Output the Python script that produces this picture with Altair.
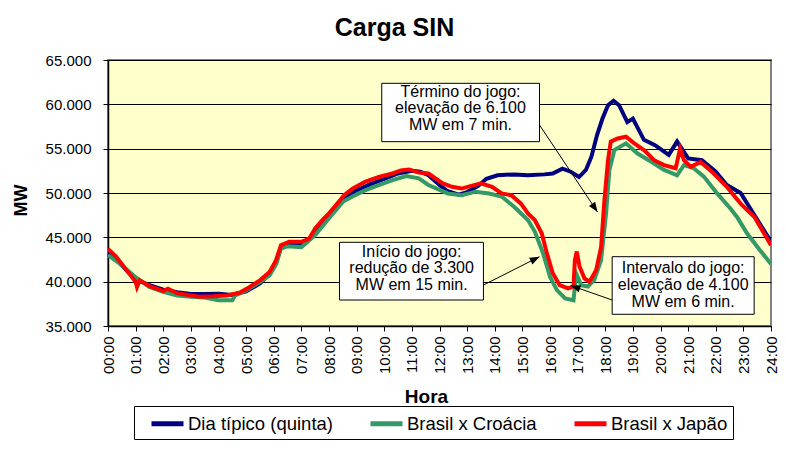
import math
import altair as alt
import pandas as pd

FONT = "Liberation Sans"

series_names = ["Dia típico (quinta)", "Brasil x Croácia", "Brasil x Japão"]
series_colors = ["#000080", "#339966", "#FF0000"]

# Dia típico (quinta)
tipico_h = [0.0, 0.3, 0.7, 1.0, 1.5, 2.0, 2.5, 3.0, 3.5, 4.0, 4.5, 5.0, 5.5, 5.85, 6.1, 6.27,
            6.6, 7.0, 7.3, 7.5, 8.0, 8.5, 9.0, 9.5, 10.0, 10.5, 11.0, 11.3, 11.6, 12.0, 12.3,
            12.7, 13.0, 13.4, 13.7, 14.1, 14.7, 15.2, 15.8, 16.1, 16.45, 16.75, 17.05, 17.3,
            17.5, 17.7, 17.9, 18.1, 18.3, 18.5, 18.8, 19.0, 19.4, 19.8, 20.3, 20.6, 21.0, 21.5,
            22.0, 22.4, 22.9, 23.2, 23.5, 24.0]
tipico_mw = [43300, 42500, 41200, 40300, 39600, 39100, 38800, 38600, 38600, 38650, 38500, 38900,
             39800, 40900, 42300, 43900, 44300, 44300, 44800, 45800, 47500, 49400, 50300, 51000,
             51600, 52200, 52500, 52400, 52000, 50900, 50200, 49800, 50100, 50800, 51600, 52000,
             52100, 52000, 52100, 52200, 52750, 52400, 51800, 52600, 54100, 56500, 58400, 59900,
             60400, 59900, 58000, 58400, 56000, 55400, 54300, 55800, 53900, 53700, 52400, 50900,
             50000, 48500, 47000, 44500]

# Brasil x Croácia
croacia_h = [0.0, 0.5, 1.0, 1.5, 2.0, 2.5, 3.0, 3.5, 4.0, 4.5, 4.6, 5.0, 5.5, 5.85, 6.1, 6.25,
             6.5, 7.0, 7.5, 8.0, 8.5, 8.85, 9.3, 9.8, 10.3, 10.8, 11.25, 11.6, 12.3, 12.8, 13.3,
             13.8, 14.25, 14.7, 15.2, 15.45, 15.75, 16.0, 16.25, 16.55, 16.85, 16.95, 17.13,
             17.37, 17.6, 17.85, 18.03, 18.15, 18.33, 18.75, 19.17, 19.65, 20.13, 20.6, 20.85,
             21.2, 21.57, 22.05, 22.53, 22.77, 23.13, 23.6, 24.0]
croacia_mw = [43000, 41850, 40500, 39400, 38850, 38450, 38300, 38200, 37900, 37900, 38450, 39000,
              39950, 40700, 42050, 43700, 44000, 43900, 45250, 47150, 49000, 49600, 50300, 50900,
              51450, 51900, 51650, 50900, 49950, 49750, 50150, 49950, 49600, 48450, 46950, 45650,
              43200, 40550, 39050, 38100, 37900, 40900, 39600, 39450, 40200, 42450, 47700, 52600,
              54850, 55600, 54450, 53550, 52600, 52000, 53150, 52800, 51850, 49950, 48250, 47300,
              45450, 43550, 42000]

# Brasil x Japão
japao_h = [0.0, 0.3, 0.67, 1.0, 1.05, 1.15, 1.5, 2.0, 2.17, 2.5, 3.0, 3.3, 3.8, 4.3, 4.76, 5.1,
           5.5, 5.85, 6.08, 6.26, 6.56, 7.0, 7.28, 7.5, 7.76, 8.0, 8.3, 8.55, 8.85, 9.3, 9.8,
           10.3, 10.6, 10.9, 11.25, 11.6, 12.1, 12.45, 12.8, 13.15, 13.5, 13.9, 14.25, 14.6,
           14.95, 15.2, 15.45, 15.7, 15.87, 16.1, 16.35, 16.65, 16.85, 16.9, 16.97, 17.07, 17.25,
           17.43, 17.67, 17.85, 17.97, 18.1, 18.2, 18.45, 18.75, 19.05, 19.4, 19.77, 20.13,
           20.55, 20.71, 20.85, 21.1, 21.45, 21.93, 22.4, 22.9, 23.4, 24.0]
japao_mw = [43700, 42800, 41300, 40000, 39400, 40150, 39500, 38950, 39200, 38700, 38450, 38300,
            38350, 38450, 38750, 39350, 40150, 41100, 42400, 44100, 44500, 44500, 44850, 46000,
            46950, 47700, 48800, 49750, 50500, 51250, 51800, 52200, 52550, 52650, 52300, 52200,
            51100, 50700, 50500, 50800, 51100, 50700, 49950, 49750, 48800, 47700, 46950, 45450,
            43400, 40950, 39600, 39250, 39450, 42400, 43400, 41700, 40350, 40000, 41300, 43900,
            49200, 53700, 55800, 56150, 56350, 55600, 54850, 53700, 53150, 52800, 55000, 53700,
            52950, 53500, 52200, 50700, 48800, 47300, 44100]

hour_ticks = list(range(0, 25))
mw_ticks = [35000, 40000, 45000, 50000, 55000, 60000, 65000]

# Annotations (data units: hours, MW); text position = first line
note_texts = ["Término do jogo:\nelevação de 6.100\nMW em 7 min.",
              "Início do jogo:\nredução de 3.300\nMW em 15 min.",
              "Intervalo do jogo:\nelevação de 4.100\nMW em 6 min."]
note_text_h = [12.76, 10.99, 20.82]
note_text_mw = [61420, 43380, 41500]
box_h1 = [9.91, 8.38, 18.25]
box_h2 = [15.62, 13.59, 23.39]
box_mw1 = [62370, 44440, 42816]
box_mw2 = [55790, 37930, 36320]
arrow_h_from = [15.62, 13.59, 18.25]
arrow_mw_from = [57670, 39620, 37930]
arrow_h_to = [17.72, 15.62, 16.75]
arrow_mw_to = [47860, 42816, 39570]

W, H = 663, 266
Y_MIN, Y_MAX = 35000, 65000

frames = []
for name, hh, vv in zip(series_names, [tipico_h, croacia_h, japao_h], [tipico_mw, croacia_mw, japao_mw]):
    frames.append(pd.DataFrame({"hora": hh, "mw": vv, "serie": name}))

# arrowhead orientation computed in pixel space from the scales' geometry
angles = []
for h0, v0, h1, v1 in zip(arrow_h_from, arrow_mw_from, arrow_h_to, arrow_mw_to):
    dx = (h1 - h0) * W / 24.0
    dy = -(v1 - v0) * H / (Y_MAX - Y_MIN)
    angles.append(math.degrees(math.atan2(dx, -dy)) % 360)

boxes = pd.DataFrame({"hora": box_h1, "hora2": box_h2, "mw": box_mw1, "mw2": box_mw2})
texts = pd.DataFrame({"hora": note_text_h, "mw": note_text_mw, "txt": note_texts})
arrows = pd.DataFrame({"hora": arrow_h_from, "mw": arrow_mw_from,
                       "hora2": arrow_h_to, "mw2": arrow_mw_to})
heads = pd.DataFrame({"hora": arrow_h_to, "mw": arrow_mw_to, "ang": angles})


def xenc():
    return alt.X("hora:Q", title="Hora",
                 scale=alt.Scale(domain=[0, 24], nice=False, zero=False),
                 axis=alt.Axis(values=hour_ticks, grid=False, labelAngle=270,
                               labelExpr="(datum.value < 10 ? '0' : '') + datum.value + ':00'",
                               labelFlush=False, labelOverlap=False, labelFontSize=15,
                               labelPadding=5, tickSize=5, titleFontSize=19, titleFontWeight="bold",
                               titleX=318, titleY=76, titleBaseline="alphabetic",
                               domainColor="black", domainWidth=1.5))


def yenc():
    return alt.Y("mw:Q", title="MW",
                 scale=alt.Scale(domain=[Y_MIN, Y_MAX], nice=False, zero=False),
                 axis=alt.Axis(values=mw_ticks, grid=True, gridColor="black", gridWidth=1,
                               labelExpr="replace(format(datum.value, ','), ',', '.')",
                               labelFontSize=15, labelPadding=12, tickSize=5,
                               titleFontSize=18, titleFontWeight="bold",
                               titleX=-87, titleY=140, titleAngle=270, titleBaseline="middle",
                               domainColor="black", domainWidth=1.5))


color = alt.Color("serie:N", title=None,
                  scale=alt.Scale(domain=series_names, range=series_colors),
                  legend=alt.Legend(orient="none", legendX=26, legendY=346,
                                    direction="horizontal", columns=3,
                                    strokeColor="black", fillColor="white", padding=5,
                                    labelFontSize=18.5, labelFont=FONT, labelColor="black",
                                    labelLimit=400, symbolType="M0,0L3.2,0", symbolSize=400,
                                    symbolStrokeWidth=5, columnPadding=25, labelOffset=24))

layers = []
for df in frames:
    layers.append(alt.Chart(df).mark_line(strokeWidth=4, clip=True).encode(
        x=xenc(), y=yenc(), color=color))

arrow_layer = alt.Chart(arrows).mark_rule(color="black", strokeWidth=1).encode(
    x=xenc(), y=yenc(), x2="hora2:Q", y2="mw2:Q")
head_layer = alt.Chart(heads).mark_point(
    shape="M0,0L0.38,1L-0.38,1Z", filled=True, color="black", opacity=1, size=380,
    strokeWidth=0).encode(x=xenc(), y=yenc(), angle=alt.Angle("ang:Q", scale=None))
box_layer = alt.Chart(boxes).mark_rect(fill="white", stroke="black", strokeWidth=1).encode(
    x=xenc(), y=yenc(), x2="hora2:Q", y2="mw2:Q")
text_layer = alt.Chart(texts).mark_text(
    font=FONT, fontSize=16, lineBreak="\n", lineHeight=16.7, align="center",
    baseline="middle", color="black").encode(x=xenc(), y=yenc(), text="txt:N")

chart = alt.layer(*layers, arrow_layer, head_layer, box_layer, text_layer).properties(
    width=W, height=H,
    autosize=alt.AutoSizeParams(type="none"),
    padding={"left": 100, "top": 52, "right": 7, "bottom": 114},
    title=alt.Title("Carga SIN", font=FONT, fontSize=25, fontWeight="bold", color="black",
                    anchor="middle", dx=-45, dy=26, offset=18, baseline="alphabetic"),
    background="white",
).configure_view(fill="#FFFFCC", stroke="#808080", strokeWidth=2).configure_axis(
    labelFont=FONT, titleFont=FONT, labelColor="black", titleColor="black",
    tickColor="black", tickWidth=1)

chart.save("out.html", embed_options={"renderer": "svg", "actions": False})
